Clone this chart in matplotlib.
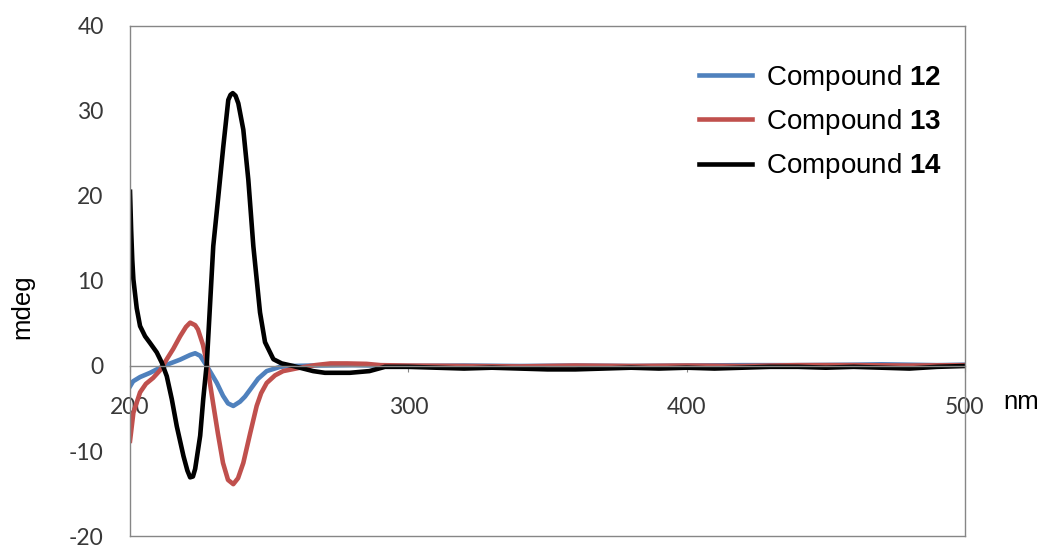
import numpy as np
import matplotlib
matplotlib.use("Agg")
import matplotlib.pyplot as plt

plt.rcParams["font.family"] = ["Liberation Sans", "DejaVu Sans"]
plt.rcParams["mathtext.fontset"] = "custom"
plt.rcParams["mathtext.bf"] = "Liberation Sans:bold"
plt.rcParams["mathtext.rm"] = "Liberation Sans"
plt.rcParams["axes.unicode_minus"] = False

# CD spectra (nm, mdeg)
nm_12 = [200.0, 201.1, 203.6, 207.2, 210.8, 214.4, 218.0, 221.6, 223.4, 225.2, 227.6,
         229.4, 231.2, 233.4, 235.2, 237.1, 239.5, 241.3, 243.1, 246.0, 249.1, 253.9,
         257.5, 265, 280, 300, 320, 340, 360, 380, 400, 420, 440, 460, 470, 480, 490, 500]
cd_12 = [-2.4, -1.8, -1.3, -0.8, -0.2, 0.3, 0.75, 1.3, 1.5, 1.2, 0.0,
         -1.0, -2.0, -3.5, -4.4, -4.7, -4.2, -3.6, -2.8, -1.5, -0.6, -0.1,
         0.0, 0.05, 0.1, 0.0, 0.05, 0.0, 0.05, 0.0, 0.05, 0.1, 0.1, 0.15, 0.2, 0.15, 0.1, 0.15]

nm_13 = [200.0, 201.2, 203.6, 205.7, 208.3, 210.8, 213.2, 215.5, 218.0, 220.1, 221.6,
         223.4, 224.4, 226.2, 227.6, 228.7, 229.8, 231.6, 233.4, 235.2, 237.1, 238.8,
         240.7, 243.1, 245.5, 247.1, 249.1, 252.1, 255.0, 261.1, 266.5, 272, 278, 285,
         290, 300, 320, 340, 360, 380, 400, 420, 440, 460, 480, 500]
cd_13 = [-8.8, -5.5, -3.1, -2.1, -1.4, -0.5, 0.8, 2.0, 3.5, 4.6, 5.1,
         4.8, 4.3, 2.5, 0.4, -2.0, -4.3, -8.0, -11.4, -13.4, -13.9, -13.2,
         -11.4, -8.0, -4.7, -3.2, -2.0, -1.1, -0.6, -0.2, 0.1, 0.3, 0.3, 0.25,
         0.1, 0.05, 0.0, -0.05, 0.05, 0.0, 0.05, 0.0, 0.1, 0.1, 0.05, 0.1]

nm_14 = [200.0, 200.4, 200.8, 201.2, 202.4, 203.6, 205.4, 207.2, 209.6, 211.4, 213.2, 215.0,
         216.8, 219.2, 220.6, 221.6, 222.6, 223.4, 225.2, 226.3, 227.6, 229.9, 231.7, 233.5,
         235.3, 236.1, 236.9, 237.9, 238.9, 240.7, 242.5, 244.3, 246.7, 248.5, 251.5,
         254.5, 258.6, 265.8, 270, 279, 286, 291.6, 300, 310, 320, 330, 340, 350, 360,
         370, 380, 390, 400, 410, 420, 430, 440, 450, 460, 470, 480, 490, 500]
cd_14 = [20.5, 16.0, 12.5, 10.2, 6.8, 4.7, 3.5, 2.7, 1.6, 0.4, -1.2, -3.9,
         -7.1, -10.6, -12.3, -13.1, -13.0, -12.1, -8.2, -3.9, 0.4, 14.1, 19.9, 25.8,
         31.3, 31.9, 32.1, 31.8, 30.9, 27.8, 21.9, 14.1, 6.3, 2.8, 0.8,
         0.3, 0.0, -0.6, -0.8, -0.8, -0.6, -0.1, -0.1, -0.2, -0.3, -0.2, -0.3, -0.4, -0.4,
         -0.3, -0.2, -0.3, -0.2, -0.3, -0.2, -0.1, -0.1, -0.2, -0.1, -0.2, -0.3, -0.1, 0.0]

labels = ["Compound $\\bf{12}$", "Compound $\\bf{13}$", "Compound $\\bf{14}$"]
colors = ["#4F81BD", "#C0504D", "#000000"]
x_ticks = [200, 300, 400, 500]
y_ticks = [-20, -10, 0, 10, 20, 30, 40]

fig = plt.figure(figsize=(10.47, 5.47), dpi=100)
ax = fig.add_axes([0.1242, 0.0201, 0.7975, 0.9324])

for xs, ys, c, lab in zip([nm_12, nm_13, nm_14], [cd_12, cd_13, cd_14], colors, labels):
    ax.plot(xs, ys, color=c, lw=3.3, label=lab, solid_joinstyle="round")

ax.set_xlim(200, 500)
ax.set_ylim(-20, 40)
ax.set_xticks(x_ticks)
ax.set_yticks(y_ticks)

for s in ax.spines.values():
    s.set_color("#868686")
    s.set_linewidth(1.0)
ax.spines["bottom"].set_position(("data", 0))
# bottom edge of the box
ax.plot([0, 1], [0, 0], transform=ax.transAxes, color="#868686", lw=1.0, clip_on=False)

ax.tick_params(axis="x", direction="out", length=4, color="#868686", pad=18,
               labelsize=16.5, labelcolor="#383838")
ax.tick_params(axis="y", length=0, pad=19, labelsize=16.5, labelcolor="#383838")
for t in ax.get_xticklabels() + ax.get_yticklabels():
    t.set_fontfamily(["Lato", "DejaVu Sans"])

fig.text(0.021, 0.44, "mdeg", rotation=90, fontsize=18.5, ha="center", va="center")
fig.text(0.975, 0.265, "nm", fontsize=18.5, ha="center", va="center")

ax.legend(loc="upper left", bbox_to_anchor=(0.6685, 0.95), frameon=False, fontsize=20,
          handlelength=1.9, handletextpad=0.5, labelspacing=0.52, borderaxespad=0)

fig.savefig("out.png", dpi=100)
